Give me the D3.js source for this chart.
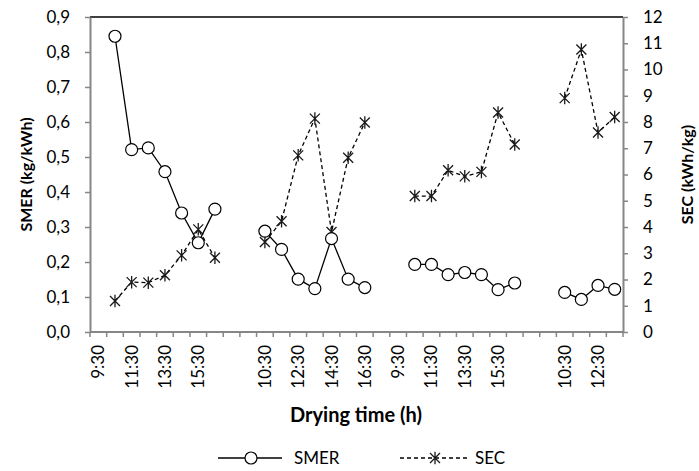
<!DOCTYPE html>
<html>
<head>
<meta charset="utf-8">
<script src="https://cdn.jsdelivr.net/npm/d3@7"></script>
<style>
  body { margin: 0; background: #fff; }
  text { font-family: Lato, "Open Sans", sans-serif; fill: #000; }
</style>
</head>
<body>
<div id="container"></div>
<script>
/* DATA */
const categories = [
  "9:30", "10:30", "11:30", "12:30", "13:30", "14:30", "15:30", "16:30", "", "",
  "10:30", "11:30", "12:30", "13:30", "14:30", "15:30", "16:30", "",
  "9:30", "10:30", "11:30", "12:30", "13:30", "14:30", "15:30", "16:30", "", "",
  "10:30", "11:30", "12:30", "13:30"
];

// null = no measurement (gap between drying days)
const smer = [
  null, 0.845, 0.521, 0.526, 0.458, 0.340, 0.255, 0.351, null, null,
  0.288, 0.236, 0.151, 0.124, 0.267, 0.151, 0.127, null,
  null, 0.193, 0.193, 0.164, 0.170, 0.164, 0.121, 0.140, null, null,
  0.113, 0.093, 0.133, 0.122
];

const sec = [
  null, 1.18, 1.90, 1.88, 2.16, 2.92, 3.91, 2.83, null, null,
  3.43, 4.22, 6.73, 8.13, 3.81, 6.64, 7.98, null,
  null, 5.18, 5.18, 6.16, 5.93, 6.10, 8.36, 7.14, null, null,
  8.91, 10.76, 7.60, 8.19
];

const smerTicks = [0, 0.1, 0.2, 0.3, 0.4, 0.5, 0.6, 0.7, 0.8, 0.9];
const secTicks = [0, 1, 2, 3, 4, 5, 6, 7, 8, 9, 10, 11, 12];

/* LAYOUT */
const width = 699, height = 471;
const margin = { top: 17, right: 76, bottom: 139, left: 90 };
const axisColor = "#868686";

const svg = d3.select("#container")
  .append("svg")
  .attr("width", width)
  .attr("height", height);

const idx = d3.range(categories.length);

const x = d3.scaleBand()
  .domain(idx)
  .range([margin.left, width - margin.right]);

const yL = d3.scaleLinear()
  .domain([0, 0.9])
  .range([height - margin.bottom, margin.top]);

const yR = d3.scaleLinear()
  .domain([0, 12])
  .range([height - margin.bottom, margin.top]);

const x0 = margin.left, x1 = width - margin.right;
const yBottom = height - margin.bottom;

// top border of plot area
svg.append("line")
  .attr("x1", x0).attr("x2", x1)
  .attr("y1", margin.top).attr("y2", margin.top)
  .attr("stroke", "#000")
  .attr("stroke-width", 1.5);

// LEFT AXIS
const fmt = d3.format(".1f");
const leftAxis = svg.append("g")
  .attr("transform", `translate(${x0},0)`)
  .call(d3.axisLeft(yL).tickValues(smerTicks).tickSize(5).tickSizeOuter(0).tickPadding(15)
    .tickFormat(d => fmt(d).replace(".", ",")));

// RIGHT AXIS
const rightAxis = svg.append("g")
  .attr("transform", `translate(${x1},0)`)
  .call(d3.axisRight(yR).tickValues(secTicks).tickSize(5).tickSizeOuter(0).tickPadding(15));

[leftAxis, rightAxis].forEach(g => {
  g.select(".domain").attr("stroke", axisColor).attr("stroke-width", 2);
  g.selectAll(".tick line").attr("stroke", axisColor).attr("stroke-width", 1.5);
  g.selectAll(".tick text").attr("font-size", 17).attr("font-family", "Lato, sans-serif");
});

// BOTTOM AXIS (ticks between categories, label every 2nd)
const step = x.step();
const bottom = svg.append("g");
bottom.append("line")
  .attr("x1", x0).attr("x2", x1)
  .attr("y1", yBottom).attr("y2", yBottom)
  .attr("stroke", axisColor)
  .attr("stroke-width", 2);

bottom.selectAll("line.tick")
  .data(idx.concat([categories.length]))
  .join("line")
  .attr("class", "tick")
  .attr("x1", d => d < categories.length ? x(d) : x1)
  .attr("x2", d => d < categories.length ? x(d) : x1)
  .attr("y1", yBottom)
  .attr("y2", yBottom + 5)
  .attr("stroke", axisColor)
  .attr("stroke-width", 1.5);

bottom.selectAll("text.lab")
  .data(idx.filter(i => i % 2 === 0 && categories[i] !== ""))
  .join("text")
  .attr("class", "lab")
  .attr("transform", d => `translate(${x(d) + step / 2 + 6},${yBottom + 13}) rotate(-90)`)
  .attr("text-anchor", "end")
  .attr("font-size", 17)
  .text(d => categories[d]);

// AXIS TITLES
svg.append("text")
  .attr("transform", `translate(32,${(margin.top + yBottom) / 2}) rotate(-90)`)
  .attr("text-anchor", "middle")
  .attr("font-size", 16)
  .attr("font-weight", "bold")
  .text("SMER (kg/kWh)");

svg.append("text")
  .attr("transform", `translate(693,${(margin.top + yBottom) / 2}) rotate(-90)`)
  .attr("text-anchor", "middle")
  .attr("font-size", 16)
  .attr("font-weight", "bold")
  .text("SEC (kWh/kg)");

svg.append("text")
  .attr("x", 356)
  .attr("y", 422)
  .attr("text-anchor", "middle")
  .attr("font-size", 20)
  .attr("font-weight", "bold")
  .text("Drying time (h)");

// SERIES
const cx = i => x(i) + step / 2;

const lineL = d3.line()
  .defined(d => d.v !== null)
  .x(d => cx(d.i))
  .y(d => yL(d.v));

const lineR = d3.line()
  .defined(d => d.v !== null)
  .x(d => cx(d.i))
  .y(d => yR(d.v));

const smerData = smer.map((v, i) => ({ i, v }));
const secData = sec.map((v, i) => ({ i, v }));

function starPath(s) {
  return `M${-s},${-s}L${s},${s}M${-s},${s}L${s},${-s}M0,${-s * 1.25}L0,${s * 1.25}`;
}

svg.append("path")
  .datum(secData)
  .attr("d", lineR)
  .attr("fill", "none")
  .attr("stroke", "#000")
  .attr("stroke-width", 1.3)
  .attr("stroke-dasharray", "4,3");

svg.selectAll("path.sec")
  .data(secData.filter(d => d.v !== null))
  .join("path")
  .attr("class", "sec")
  .attr("transform", d => `translate(${cx(d.i)},${yR(d.v)})`)
  .attr("d", starPath(5))
  .attr("stroke", "#1a1a1a")
  .attr("stroke-width", 1.3)
  .attr("fill", "none");

svg.append("path")
  .datum(smerData)
  .attr("d", lineL)
  .attr("fill", "none")
  .attr("stroke", "#000")
  .attr("stroke-width", 1.3);

svg.selectAll("circle.smer")
  .data(smerData.filter(d => d.v !== null))
  .join("circle")
  .attr("class", "smer")
  .attr("cx", d => cx(d.i))
  .attr("cy", d => yL(d.v))
  .attr("r", 6)
  .attr("fill", "#fff")
  .attr("stroke", "#000")
  .attr("stroke-width", 1.2);

// LEGEND
const lg = svg.append("g").attr("transform", "translate(0,458)");
lg.append("line").attr("x1", 218).attr("x2", 282).attr("y1", 0).attr("y2", 0)
  .attr("stroke", "#000").attr("stroke-width", 1.3);
lg.append("circle").attr("cx", 251).attr("cy", 0).attr("r", 6)
  .attr("fill", "#fff").attr("stroke", "#000").attr("stroke-width", 1.2);
lg.append("text").attr("x", 294).attr("y", 6).attr("font-size", 17).text("SMER");

lg.append("line").attr("x1", 400).attr("x2", 468).attr("y1", 0).attr("y2", 0)
  .attr("stroke", "#000").attr("stroke-width", 1.3).attr("stroke-dasharray", "4,3");
lg.append("path").attr("transform", "translate(435,0)").attr("d", starPath(5))
  .attr("stroke", "#1a1a1a").attr("stroke-width", 1.3).attr("fill", "none");
lg.append("text").attr("x", 475).attr("y", 6).attr("font-size", 17).text("SEC");
</script>
</body>
</html>
